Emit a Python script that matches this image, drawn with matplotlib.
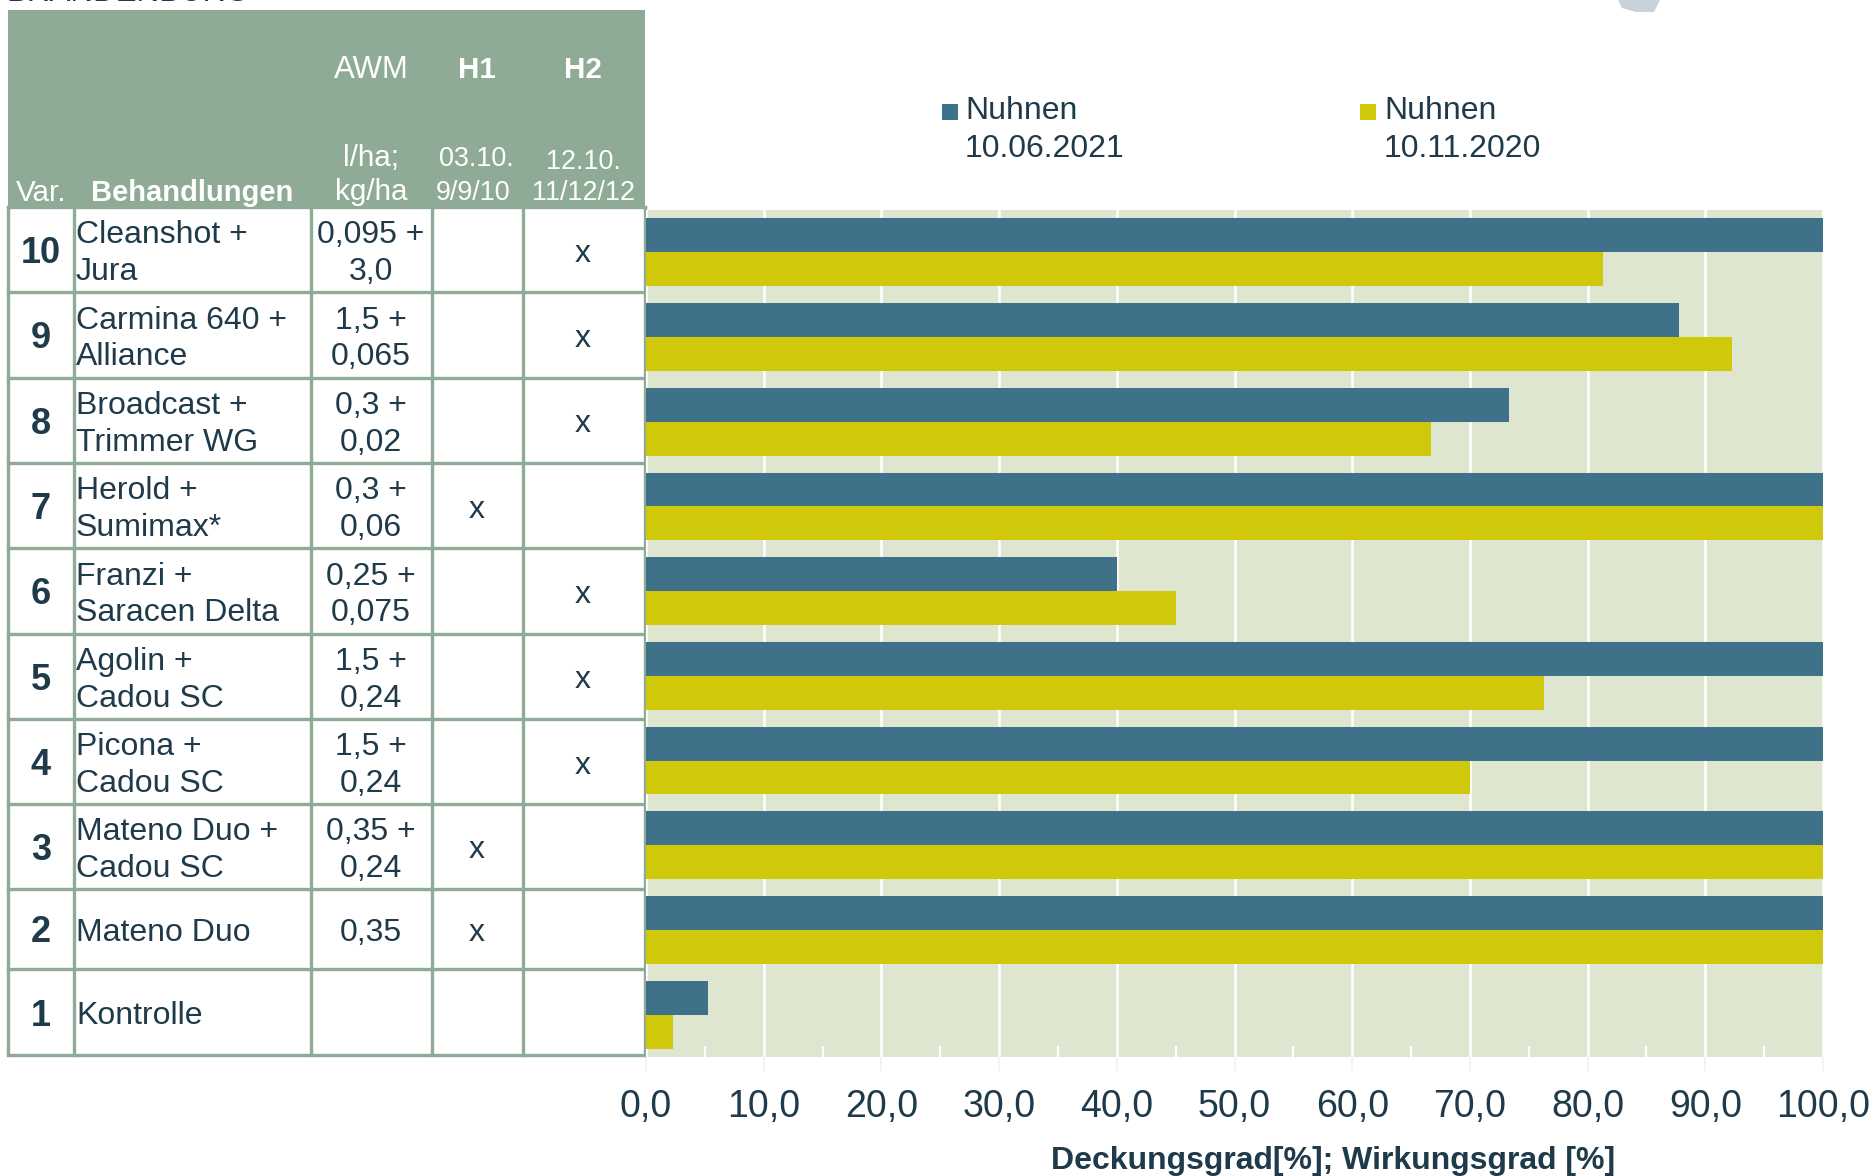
import matplotlib
matplotlib.use("Agg")
import matplotlib.pyplot as plt
from matplotlib.patches import Rectangle, Polygon

plt.rcParams['font.family'] = ['Liberation Sans', 'DejaVu Sans']

variants = ['10', '9', '8', '7', '6', '5', '4', '3', '2', '1']
treatments = ['Cleanshot +\nJura', 'Carmina 640 +\nAlliance', 'Broadcast +\nTrimmer WG',
              'Herold +\nSumimax*', 'Franzi +\nSaracen Delta', 'Agolin +\nCadou SC',
              'Picona +\nCadou SC', 'Mateno Duo +\nCadou SC', 'Mateno Duo', 'Kontrolle']
doses = ['0,095 +\n3,0', '1,5 +\n0,065', '0,3 +\n0,02', '0,3 +\n0,06', '0,25 +\n0,075',
         '1,5 +\n0,24', '1,5 +\n0,24', '0,35 +\n0,24', '0,35', '']
h1 = ['', '', '', 'x', '', '', '', 'x', 'x', '']
h2 = ['x', 'x', 'x', '', 'x', 'x', 'x', '', '', '']
nuhnen_2021 = [100, 87.8, 73.3, 100, 40, 100, 100, 100, 100, 5.3]
nuhnen_2020 = [81.3, 92.3, 66.7, 100, 45, 76.3, 70, 100, 100, 2.3]
x_ticks = [0, 10, 20, 30, 40, 50, 60, 70, 80, 90, 100]
x_labels = ['0,0', '10,0', '20,0', '30,0', '40,0', '50,0', '60,0', '70,0', '80,0', '90,0', '100,0']
legend_labels = ['Nuhnen\n10.06.2021', 'Nuhnen\n10.11.2020']
x_title = 'Deckungsgrad[%]; Wirkungsgrad [%]'

DARK = '#1f3a4a'
GREEN = '#8fab96'
BLUE = '#3f7188'
YELLOW = '#d0c80a'
BG = '#dfe6d0'
W, H = 1876, 1176

fig = plt.figure(figsize=(W / 100, H / 100), dpi=100, facecolor='white')

# overlay for the table, in pixel coordinates
tb = fig.add_axes([0, 0, 1, 1], zorder=1)
tb.set_xlim(0, W)
tb.set_ylim(H, 0)
tb.axis('off')

col_x = [8, 74, 311, 432, 523, 645]
row_y = [207, 292, 378, 463, 548, 634, 719, 804, 889, 969, 1055]

tb.add_patch(Rectangle((8, 10), 637, 197, fc=GREEN, ec='none'))
for x in col_x:
    tb.plot([x, x], [207, 1055], color=GREEN, lw=2.4, solid_capstyle='projecting')
for y in row_y:
    tb.plot([8, 645], [y, y], color=GREEN, lw=2.4, solid_capstyle='projecting')


def head(x, y, s, ha='center', bold=False, size=21.3):
    tb.text(x, y, s, ha=ha, va='center', fontsize=size, color='white',
            fontweight='bold' if bold else 'normal')


head(371, 70, 'AWM', size=22.4)
head(477, 70, 'H1', bold=True)
head(583, 70, 'H2', bold=True)
head(371, 158, 'l/ha;')
head(371, 192, 'kg/ha')
head(476, 159, '03.10.', size=19.4)
head(473, 193, '9/9/10', size=19.4)
head(583, 162, '12.10.', size=19.4)
head(583, 193, '11/12/12', size=19.4)
head(41, 193, 'Var.')
head(91, 193, 'Behandlungen', ha='left', bold=True, size=21)

fs = 23
for i, v in enumerate(variants):
    yc = (row_y[i] + row_y[i + 1]) / 2 + 4
    tb.text(41, yc, v, ha='center', va='center', fontsize=26, fontweight='bold', color=DARK)
    tb.text(76, yc, treatments[i], ha='left', va='center', fontsize=fs, color=DARK, linespacing=1.3)
    tb.text(371, yc, doses[i], ha='center', va='center', fontsize=fs, color=DARK, linespacing=1.3)
    tb.text(477, yc, h1[i], ha='center', va='center', fontsize=fs, color=DARK)
    tb.text(583, yc, h2[i], ha='center', va='center', fontsize=fs, color=DARK)

# clipped page furniture at the top edge
tb.text(6, 1, 'BRANDENBURG', ha='left', va='baseline', fontsize=22.5, color=DARK)
tb.add_patch(Polygon([(1618, 0), (1622, 8), (1636, 12), (1654, 12), (1660, 0)], fc='#c9d1d9', ec='none'))

# legend entries: swatch beside the first line of a two-line label
for sx, tx, col, lab in zip([942, 1360], [965, 1384], [BLUE, YELLOW], legend_labels):
    tb.add_patch(Rectangle((sx, 104), 16, 16, fc=col, ec='none'))
    tb.text(tx, 130, lab, ha='left', va='center', fontsize=23, color=DARK, linespacing=1.32)

# chart
ax = fig.add_axes([646 / W, 1 - 1057 / H, (1823 - 646) / W, (1057 - 210) / H], zorder=2)
ax.set_facecolor(BG)
ypos = list(range(len(variants)))
bh = 0.4
ax.barh([p - bh / 2 for p in ypos], nuhnen_2021, height=bh, color=BLUE, zorder=3)
ax.barh([p + bh / 2 for p in ypos], nuhnen_2020, height=bh, color=YELLOW, zorder=3)
ax.set_ylim(9.5, -0.5)
ax.set_xlim(0, 100)
ax.set_yticks([])
ax.set_xticks(x_ticks)
ax.set_xticklabels(x_labels, fontsize=27, color=DARK)
ax.set_xticks([t + 5 for t in x_ticks[:-1]], minor=True)
ax.tick_params(axis='x', which='major', length=10, width=1.2, color='#f1f1ee', pad=13)
ax.tick_params(axis='x', which='minor', direction='in', length=8, width=1.5, color='white')
ax.grid(axis='x', which='major', color='white', lw=1.8, zorder=1)
ax.set_axisbelow(True)
for s in ax.spines.values():
    s.set_visible(False)
ax.set_xlabel(x_title, fontsize=23, fontweight='bold', color=DARK)
ax.xaxis.set_label_coords((1333 - 646) / (1823 - 646), -0.105)

fig.savefig('out.png', dpi=100)
